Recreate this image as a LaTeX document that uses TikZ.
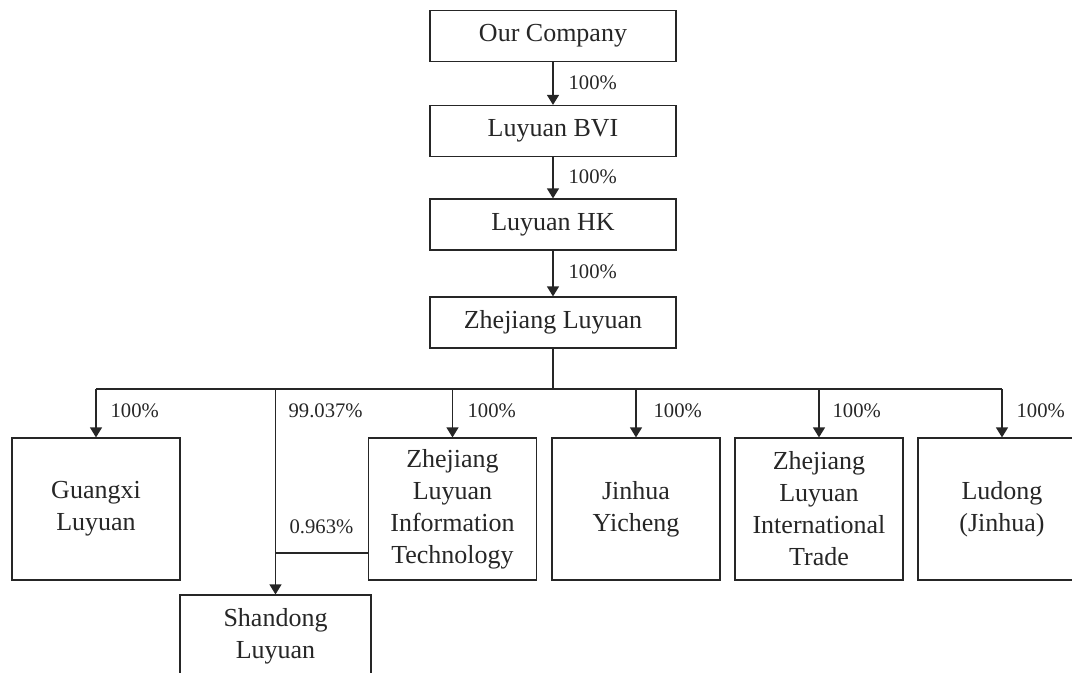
\documentclass[tikz,border=0pt]{standalone}
\usepackage{fontspec}
\setmainfont{Liberation Serif}
\usetikzlibrary{arrows.meta,positioning}

\begin{document}
\begin{tikzpicture}[x=0.75pt,y=-0.75pt,line width=0.9pt,color=black!85,
	firm/.style={draw, rectangle, inner sep=0pt, align=center,
		font=\fontsize{19.5}{24}\selectfont,
		minimum width=184.5pt, minimum height=38.25pt},
	sub/.style={firm, minimum width=126pt, minimum height=106.5pt},
	share/.style={anchor=west, inner sep=0pt, font=\fontsize{15.5}{18}\selectfont},
	own/.style={-{Triangle[width=9pt,length=7.5pt]}}]
	\clip (0,0) rectangle (1072,672);
	% holding chain
	\node (our) [firm] at (553,36) {Our Company};
	\node (bvi) [firm] at (553,131) {Luyuan BVI};
	\node (hk) [firm] at (553,224.5) {Luyuan HK};
	\node (zl) [firm] at (553,322.5) {Zhejiang Luyuan};
	\draw [own] (our) -- (bvi);
	\draw [own] (bvi) -- (hk);
	\draw [own] (hk) -- (zl);
	\node (p1) [share] at (568,83) {100\%};
	\node (p2) [share] at (568,177) {100\%};
	\node (p3) [share] at (568,272) {100\%};
	% subsidiaries
	\node (gx) [sub] at (96,509) {Guangxi\\Luyuan};
	\node (zlit) [sub] at (452.5,509) {Zhejiang\\Luyuan\\Information\\Technology};
	\node (jh) [sub] at (636,509) {Jinhua\\Yicheng};
	\node (zlt) [sub] at (819,509) {Zhejiang\\Luyuan\\International\\Trade};
	\node (ld) [sub] at (1002,509) {Ludong\\(Jinhua)};
	\node (sd) [firm, minimum width=143.25pt, minimum height=61.5pt] at (275.5,636) {Shandong\\Luyuan};
	\coordinate (bus) at (553,389);
	\coordinate (join) at (275.5,553);
	\draw (zl) -- (bus);
	\draw (gx.north |- bus) -- (ld.north |- bus);
	\foreach \n in {gx,zlit,jh,zlt,ld,sd}
		\draw [own] (\n.north |- bus) -- (\n.north);
	\draw (zlit.west |- join) -- (join);
	\node (q1) [share] at (110,411) {100\%};
	\node (q2) [share] at (288,411) {99.037\%};
	\node (q3) [share] at (467,411) {100\%};
	\node (q4) [share] at (653,411) {100\%};
	\node (q5) [share] at (832,411) {100\%};
	\node (q6) [share] at (1016,411) {100\%};
	\node (q7) [share] at (289,527) {0.963\%};
\end{tikzpicture}
\end{document}
